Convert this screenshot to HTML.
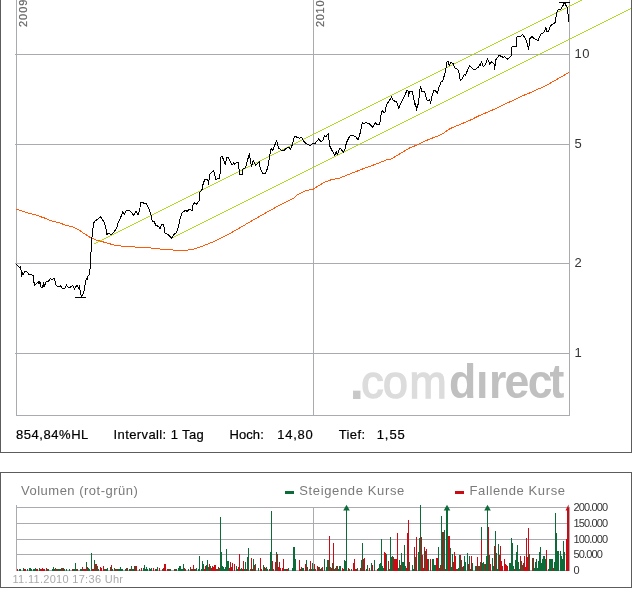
<!DOCTYPE html>
<html><head><meta charset="utf-8"><title>Chart</title>
<style>html,body{margin:0;padding:0;background:#fff}body{width:632px;height:590px;position:relative;overflow:hidden;font-family:"Liberation Sans",sans-serif}</style></head>
<body>
<svg width="632" height="590" viewBox="0 0 632 590" style="position:absolute;left:0;top:0;display:block">
<rect x="0" y="0" width="632" height="590" fill="#fff"/>
<g shape-rendering="crispEdges" fill="#5c5c5c">
<rect x="0" y="0" width="1" height="453"/><rect x="631" y="0" width="1" height="453"/><rect x="0" y="452" width="632" height="1"/>
<rect x="0" y="472" width="632" height="1"/><rect x="0" y="587" width="632" height="1"/><rect x="0" y="472" width="1" height="116"/><rect x="631" y="472" width="1" height="116"/>
</g>
<g shape-rendering="crispEdges" fill="#a9abb0">
<rect x="15" y="54" width="555" height="1"/>
<rect x="15" y="144" width="555" height="1"/>
<rect x="15" y="263" width="555" height="1"/>
<rect x="15" y="353" width="555" height="1"/>
<rect x="16" y="0" width="1" height="416"/><rect x="313" y="0" width="1" height="416"/><rect x="569" y="0" width="1" height="416"/>
<rect x="16" y="415" width="554" height="1"/>
</g>
<text transform="scale(0.95,1)" font-family="'Liberation Sans',sans-serif" font-size="47" fill="#dcdcdc" stroke="#dcdcdc" stroke-width="1.5"><tspan x="367.85" y="398.8" font-size="55" font-weight="bold" fill="#c8c8c8" stroke="none">.</tspan><tspan x="380.21 403.26 430.95" y="397.6">com</tspan></text>
<text transform="scale(0.93,1)" font-family="'Liberation Sans',sans-serif" font-size="48" font-weight="bold" fill="#c0c0c0" x="482.81 511.90 525.89 542.55 567.61 590.83" y="397.7">dırect</text>
<g stroke="#a6d60a" stroke-width="0.89" fill="none" shape-rendering="crispEdges">
<line x1="94" y1="244.2" x2="582.4" y2="0"/>
<line x1="171" y1="238.6" x2="631" y2="8.6"/>
</g>
<polyline points="16.5,209.3 27.0,212.7 35.4,214.9 43.9,217.8 52.4,221.2 60.8,223.2 66.0,225.6 71.9,226.3 78.7,229.7 84.6,233.9 91.4,238.1 96.5,240.2 105.0,242.4 113.5,244.9 122.0,246.1 133.8,246.9 150.7,248.0 166.0,249.7 185.0,250.5 193.0,249.3 200.0,247.0 207.5,244.2 217.6,239.9 227.8,234.8 238.0,228.9 248.1,223.0 260.0,216.2 270.0,210.5 280.0,205.0 289.7,200.0 294.0,198.3 297.4,194.9 305.8,190.7 313.5,189.0 322.8,183.1 329.6,180.2 339.7,178.0 348.2,174.6 355.0,172.0 365.0,168.0 375.0,164.5 386.4,160.0 390.7,159.2 400.8,153.2 409.3,148.1 417.8,144.7 426.3,140.5 434.7,137.1 441.5,134.6 450.0,128.6 460.0,124.5 471.3,119.7 478.9,115.8 489.1,111.5 495.8,108.5 504.3,104.4 512.8,100.5 521.3,96.3 529.7,92.9 536.5,89.8 545.0,86.1 555.9,80.0 568.8,72.5" fill="none" stroke="#ff5a0a" stroke-width="1" stroke-linejoin="round" shape-rendering="crispEdges"/>
<polyline points="16.5,264.4 19.6,267.5 20.6,266.2 21.6,276.1 22.6,272.5 23.2,275.1 24.7,271.5 26.7,271.3 28.7,274.1 31.3,274.6 33.3,275.6 34.3,285.3 38.4,281.7 38.9,283.7 39.9,281.7 41.0,287.3 42.5,287.3 43.5,282.2 44.0,287.3 46.0,281.7 48.6,281.2 50.6,278.5 52.1,279.9 53.2,278.7 54.7,278.7 55.7,284.8 57.7,286.8 59.3,286.8 60.3,285.3 62.3,288.3 64.9,288.3 66.4,284.8 68.4,287.8 71.0,286.8 72.5,285.3 74.5,289.3 76.0,286.3 77.0,285.6 78.7,288.1 79.2,285.6 81.3,296.6 83.8,292.4 86.3,278.0 87.7,279.7 88.0,276.3 89.7,274.6 90.1,267.8 91.1,250.8 92.3,232.2 94.0,222.0 94.8,222.9 95.0,221.0 100.7,216.9 104.1,222.0 105.8,227.1 106.7,234.7 108.4,233.1 110.9,234.7 112.6,233.9 116.8,228.0 117.7,223.7 120.2,218.6 122.8,211.9 124.5,214.4 126.2,210.2 129.6,210.2 133.8,215.3 136.3,211.0 138.0,215.3 139.7,210.2 140.6,202.5 143.1,202.5 144.0,204.2 146.0,203.0 149.1,209.3 151.6,217.0 152.4,222.0 154.1,221.2 155.8,225.4 158.4,226.3 160.1,228.5 161.7,224.7 163.7,224.7 165.1,233.1 168.5,234.8 171.5,238.2 174.4,234.0 176.1,233.1 178.6,226.4 180.3,217.9 182.0,212.8 185.4,210.3 187.1,211.4 188.8,209.4 192.2,210.3 193.1,204.3 194.7,202.6 196.4,204.3 199.5,200.1 199.8,192.5 202.4,189.1 203.2,183.1 204.9,179.7 207.1,178.9 208.3,181.4 208.3,184.8 210.0,173.8 213.4,170.8 214.6,173.8 215.9,179.7 219.3,178.1 220.2,173.0 221.0,156.9 222.4,156.9 225.3,164.5 226.9,157.7 228.6,157.7 232.0,165.3 233.7,162.8 234.6,164.5 237.1,161.9 238.3,162.8 239.7,174.7 242.2,174.7 243.1,168.7 245.6,167.9 249.3,153.5 251.5,167.0 253.2,160.3 255.8,165.3 256.7,164.4 259.2,161.9 260.1,167.8 262.6,173.7 265.2,173.7 267.7,167.8 269.4,157.6 271.1,148.3 272.8,150.8 274.5,145.8 276.7,140.7 278.7,148.3 281.3,150.0 283.8,150.8 286.4,148.3 288.9,147.5 290.6,149.2 292.6,144.1 294.5,136.4 297.4,137.3 299.4,138.1 301.6,137.3 303.3,140.7 305.8,143.2 310.1,145.8 312.6,143.2 315.2,143.2 318.6,139.0 321.1,141.5 322.8,140.7 324.5,135.6 326.2,136.4 328.4,133.1 329.6,145.8 332.1,150.8 334.7,155.1 336.4,151.7 337.2,155.1 339.7,148.3 341.4,149.2 343.1,152.5 344.8,150.0 346.5,142.4 349.1,137.3 350.8,135.3 353.4,135.4 355.9,137.1 358.1,139.7 359.8,134.6 361.9,124.4 362.7,122.7 364.4,123.6 366.1,122.4 370.3,124.4 372.5,127.5 375.1,122.7 377.1,124.4 379.7,124.1 381.4,112.5 382.2,110.8 383.9,112.5 385.3,111.7 386.4,104.9 389.8,99.8 391.5,96.9 393.2,100.7 396.6,101.5 398.8,108.3 400.8,103.2 404.2,96.4 406.8,90.8 408.0,90.5 408.5,96.4 409.7,91.4 412.4,91.4 414.1,100.7 415.3,106.6 415.8,103.2 416.4,110.5 418.6,102.4 420.3,86.3 422.0,91.4 424.6,91.4 427.1,100.7 429.7,99.8 430.5,103.2 432.2,94.7 433.9,90.5 435.6,90.8 437.3,93.6 439.0,87.1 441.5,81.2 442.4,82.0 444.1,76.1 445.8,70.2 446.6,62.5 448.0,60.7 449.2,65.8 450.9,62.4 453.1,63.7 455.2,68.3 457.7,69.2 459.4,74.2 460.3,81.0 462.8,77.6 464.5,74.2 465.7,75.1 467.9,69.2 469.6,65.8 473.0,69.2 475.5,69.2 478.9,66.6 479.7,64.1 480.6,65.8 481.4,61.0 483.1,66.6 485.7,64.1 487.4,58.6 489.9,64.4 491.6,61.5 494.2,64.1 494.5,69.5 495.8,59.8 499.2,55.3 503.5,57.6 504.3,56.4 507.7,59.3 511.1,55.9 511.9,47.1 516.2,46.3 517.0,36.9 519.6,36.1 520.4,36.9 522.6,34.4 525.5,38.9 527.4,43.6 528.5,49.6 530.0,38.5 532.2,36.3 533.6,38.6 535.6,39.4 538.3,40.4 540.4,34.5 542.4,33.3 544.4,31.9 545.8,27.8 547.1,31.9 548.5,31.9 550.5,25.8 552.5,24.4 555.5,22.4 556.3,13.6 558.0,9.8 560.7,9.2 562.7,6.1 564.5,2.7 566.8,6.8 567.7,8.1 568.1,16.3 568.8,22.4" fill="none" stroke="#000" stroke-width="1" stroke-linejoin="round" shape-rendering="crispEdges"/>
<g shape-rendering="crispEdges" fill="#000"><rect x="559" y="2" width="11" height="1"/><rect x="75" y="297" width="11" height="1"/></g>
<text transform="translate(27.2,27) rotate(-90)" font-family="'Liberation Sans',sans-serif" font-size="11" fill="#666" stroke="#666" stroke-width="0.2" letter-spacing="1">2009</text>
<text transform="translate(324.2,27) rotate(-90)" font-family="'Liberation Sans',sans-serif" font-size="11" fill="#666" stroke="#666" stroke-width="0.2" letter-spacing="0.68">2010</text>
<text x="574.5" y="58" font-family="'Liberation Sans',sans-serif" font-size="13" fill="#333" letter-spacing="0.4">10</text>
<text x="574.5" y="148" font-family="'Liberation Sans',sans-serif" font-size="13" fill="#333" letter-spacing="0.4">5</text>
<text x="574.5" y="267" font-family="'Liberation Sans',sans-serif" font-size="13" fill="#333" letter-spacing="0.4">2</text>
<text x="574.5" y="357" font-family="'Liberation Sans',sans-serif" font-size="13" fill="#333" letter-spacing="0.4">1</text>
<text x="16" y="439" font-family="'Liberation Sans',sans-serif" font-size="13" fill="#000" stroke="#000" stroke-width="0.2" letter-spacing="0.55" xml:space="preserve">854,84%HL</text>
<text x="113.5" y="439" font-family="'Liberation Sans',sans-serif" font-size="13" fill="#000" stroke="#000" stroke-width="0.2" letter-spacing="0.4" xml:space="preserve">Intervall: 1 Tag</text>
<text x="229.6" y="439" font-family="'Liberation Sans',sans-serif" font-size="13" fill="#000" stroke="#000" stroke-width="0.2" letter-spacing="0.05" xml:space="preserve">Hoch:</text>
<text x="277.2" y="439" font-family="'Liberation Sans',sans-serif" font-size="13" fill="#000" stroke="#000" stroke-width="0.2" letter-spacing="0.75" xml:space="preserve">14,80</text>
<text x="338.7" y="439" font-family="'Liberation Sans',sans-serif" font-size="13" fill="#000" stroke="#000" stroke-width="0.2" letter-spacing="0.4" xml:space="preserve">Tief:</text>
<text x="376.7" y="439" font-family="'Liberation Sans',sans-serif" font-size="13" fill="#000" stroke="#000" stroke-width="0.2" letter-spacing="0.95" xml:space="preserve">1,55</text>
<g shape-rendering="crispEdges" fill="#a9abb0">
<rect x="16" y="507" width="554" height="1"/>
<rect x="16" y="523" width="554" height="1"/>
<rect x="16" y="539" width="554" height="1"/>
<rect x="16" y="554" width="554" height="1"/>
<rect x="16" y="570" width="554" height="1"/>
<rect x="16" y="505" width="1" height="66"/><rect x="313" y="507" width="1" height="64"/><rect x="569" y="507" width="1" height="64"/>
</g>
<text x="21" y="495" font-family="'Liberation Sans',sans-serif" font-size="13" fill="#7a7a7a" letter-spacing="0.5">Volumen (rot-grün)</text>
<text x="299.3" y="495" font-family="'Liberation Sans',sans-serif" font-size="13" fill="#7a7a7a" letter-spacing="0.63">Steigende Kurse</text>
<text x="469.5" y="495" font-family="'Liberation Sans',sans-serif" font-size="13" fill="#7a7a7a" letter-spacing="0.62">Fallende Kurse</text>
<rect x="285" y="491" width="9" height="3" fill="#0c6b37" shape-rendering="crispEdges"/>
<rect x="455" y="491" width="9" height="3" fill="#cc0a14" shape-rendering="crispEdges"/>
<text x="573.5" y="511" font-family="'Liberation Sans',sans-serif" font-size="11" fill="#333" letter-spacing="-0.85">200.000</text>
<text x="573.5" y="526.5" font-family="'Liberation Sans',sans-serif" font-size="11" fill="#333" letter-spacing="-0.85">150.000</text>
<text x="573.5" y="542.5" font-family="'Liberation Sans',sans-serif" font-size="11" fill="#333" letter-spacing="-0.85">100.000</text>
<text x="573.5" y="557.5" font-family="'Liberation Sans',sans-serif" font-size="11" fill="#333" letter-spacing="-0.85">50.000</text>
<text x="573.5" y="573.5" font-family="'Liberation Sans',sans-serif" font-size="11" fill="#333" letter-spacing="-0.85">0</text>
<text x="12.5" y="582.5" font-family="'Liberation Sans',sans-serif" font-size="11" fill="#aaa" letter-spacing="0.3">11.11.2010 17:36 Uhr</text>
<g shape-rendering="crispEdges">
<rect x="17" y="569" width="1" height="2" fill="#cc0a14"/>
<rect x="19" y="569" width="1" height="2" fill="#0c6b37"/>
<rect x="20" y="569" width="1" height="2" fill="#0c6b37"/>
<rect x="23" y="568" width="1" height="3" fill="#0c6b37"/>
<rect x="24" y="569" width="1" height="2" fill="#cc0a14"/>
<rect x="25" y="569" width="1" height="2" fill="#cc0a14"/>
<rect x="27" y="569" width="1" height="2" fill="#0c6b37"/>
<rect x="29" y="568" width="1" height="3" fill="#0c6b37"/>
<rect x="30" y="568" width="1" height="3" fill="#0c6b37"/>
<rect x="31" y="569" width="1" height="2" fill="#0c6b37"/>
<rect x="33" y="569" width="1" height="2" fill="#0c6b37"/>
<rect x="34" y="569" width="1" height="2" fill="#0c6b37"/>
<rect x="35" y="568" width="1" height="3" fill="#0c6b37"/>
<rect x="36" y="569" width="1" height="2" fill="#cc0a14"/>
<rect x="37" y="569" width="1" height="2" fill="#cc0a14"/>
<rect x="39" y="568" width="1" height="3" fill="#0c6b37"/>
<rect x="40" y="569" width="1" height="2" fill="#cc0a14"/>
<rect x="41" y="569" width="1" height="2" fill="#cc0a14"/>
<rect x="42" y="568" width="1" height="3" fill="#cc0a14"/>
<rect x="43" y="569" width="1" height="2" fill="#cc0a14"/>
<rect x="44" y="569" width="1" height="2" fill="#cc0a14"/>
<rect x="46" y="568" width="1" height="3" fill="#cc0a14"/>
<rect x="47" y="569" width="1" height="2" fill="#0c6b37"/>
<rect x="48" y="569" width="1" height="2" fill="#0c6b37"/>
<rect x="52" y="569" width="1" height="2" fill="#0c6b37"/>
<rect x="53" y="567" width="1" height="4" fill="#0c6b37"/>
<rect x="54" y="569" width="1" height="2" fill="#cc0a14"/>
<rect x="55" y="568" width="1" height="3" fill="#0c6b37"/>
<rect x="56" y="569" width="1" height="2" fill="#cc0a14"/>
<rect x="57" y="569" width="1" height="2" fill="#0c6b37"/>
<rect x="58" y="569" width="1" height="2" fill="#0c6b37"/>
<rect x="59" y="569" width="1" height="2" fill="#0c6b37"/>
<rect x="60" y="569" width="1" height="2" fill="#cc0a14"/>
<rect x="61" y="568" width="1" height="3" fill="#0c6b37"/>
<rect x="62" y="568" width="1" height="3" fill="#0c6b37"/>
<rect x="63" y="568" width="1" height="3" fill="#cc0a14"/>
<rect x="64" y="569" width="1" height="2" fill="#0c6b37"/>
<rect x="66" y="569" width="1" height="2" fill="#0c6b37"/>
<rect x="69" y="569" width="1" height="2" fill="#0c6b37"/>
<rect x="72" y="569" width="1" height="2" fill="#cc0a14"/>
<rect x="73" y="569" width="1" height="2" fill="#0c6b37"/>
<rect x="74" y="569" width="1" height="2" fill="#0c6b37"/>
<rect x="75" y="563" width="1" height="8" fill="#0c6b37"/>
<rect x="76" y="569" width="1" height="2" fill="#0c6b37"/>
<rect x="77" y="569" width="1" height="2" fill="#cc0a14"/>
<rect x="80" y="569" width="1" height="2" fill="#0c6b37"/>
<rect x="81" y="569" width="1" height="2" fill="#0c6b37"/>
<rect x="82" y="567" width="1" height="4" fill="#cc0a14"/>
<rect x="83" y="569" width="1" height="2" fill="#0c6b37"/>
<rect x="84" y="569" width="1" height="2" fill="#cc0a14"/>
<rect x="85" y="569" width="1" height="2" fill="#cc0a14"/>
<rect x="87" y="567" width="1" height="4" fill="#cc0a14"/>
<rect x="88" y="568" width="1" height="3" fill="#0c6b37"/>
<rect x="89" y="569" width="1" height="2" fill="#0c6b37"/>
<rect x="92" y="569" width="1" height="2" fill="#cc0a14"/>
<rect x="93" y="569" width="1" height="2" fill="#cc0a14"/>
<rect x="97" y="566" width="1" height="5" fill="#0c6b37"/>
<rect x="98" y="569" width="1" height="2" fill="#0c6b37"/>
<rect x="100" y="567" width="1" height="4" fill="#cc0a14"/>
<rect x="101" y="568" width="1" height="3" fill="#cc0a14"/>
<rect x="103" y="566" width="1" height="5" fill="#cc0a14"/>
<rect x="104" y="569" width="1" height="2" fill="#0c6b37"/>
<rect x="105" y="569" width="1" height="2" fill="#cc0a14"/>
<rect x="106" y="569" width="1" height="2" fill="#0c6b37"/>
<rect x="107" y="568" width="1" height="3" fill="#0c6b37"/>
<rect x="110" y="567" width="1" height="4" fill="#0c6b37"/>
<rect x="111" y="565" width="1" height="6" fill="#cc0a14"/>
<rect x="112" y="569" width="1" height="2" fill="#0c6b37"/>
<rect x="114" y="568" width="1" height="3" fill="#0c6b37"/>
<rect x="115" y="569" width="1" height="2" fill="#cc0a14"/>
<rect x="116" y="569" width="1" height="2" fill="#0c6b37"/>
<rect x="117" y="569" width="1" height="2" fill="#cc0a14"/>
<rect x="118" y="569" width="1" height="2" fill="#0c6b37"/>
<rect x="119" y="569" width="1" height="2" fill="#0c6b37"/>
<rect x="120" y="567" width="1" height="4" fill="#0c6b37"/>
<rect x="121" y="569" width="1" height="2" fill="#0c6b37"/>
<rect x="122" y="569" width="1" height="2" fill="#0c6b37"/>
<rect x="125" y="569" width="1" height="2" fill="#0c6b37"/>
<rect x="126" y="568" width="1" height="3" fill="#0c6b37"/>
<rect x="127" y="568" width="1" height="3" fill="#cc0a14"/>
<rect x="129" y="569" width="1" height="2" fill="#0c6b37"/>
<rect x="130" y="569" width="1" height="2" fill="#cc0a14"/>
<rect x="131" y="566" width="1" height="5" fill="#0c6b37"/>
<rect x="132" y="569" width="1" height="2" fill="#0c6b37"/>
<rect x="133" y="569" width="1" height="2" fill="#0c6b37"/>
<rect x="134" y="566" width="1" height="5" fill="#cc0a14"/>
<rect x="135" y="566" width="1" height="5" fill="#0c6b37"/>
<rect x="136" y="566" width="1" height="5" fill="#cc0a14"/>
<rect x="139" y="569" width="1" height="2" fill="#0c6b37"/>
<rect x="141" y="568" width="1" height="3" fill="#cc0a14"/>
<rect x="143" y="568" width="1" height="3" fill="#0c6b37"/>
<rect x="144" y="565" width="1" height="6" fill="#0c6b37"/>
<rect x="145" y="569" width="1" height="2" fill="#0c6b37"/>
<rect x="146" y="567" width="1" height="4" fill="#0c6b37"/>
<rect x="147" y="569" width="1" height="2" fill="#0c6b37"/>
<rect x="149" y="568" width="1" height="3" fill="#0c6b37"/>
<rect x="150" y="569" width="1" height="2" fill="#0c6b37"/>
<rect x="151" y="568" width="1" height="3" fill="#0c6b37"/>
<rect x="153" y="568" width="1" height="3" fill="#cc0a14"/>
<rect x="155" y="569" width="1" height="2" fill="#cc0a14"/>
<rect x="156" y="569" width="1" height="2" fill="#0c6b37"/>
<rect x="157" y="567" width="1" height="4" fill="#0c6b37"/>
<rect x="159" y="568" width="1" height="3" fill="#cc0a14"/>
<rect x="162" y="569" width="1" height="2" fill="#0c6b37"/>
<rect x="163" y="568" width="1" height="3" fill="#cc0a14"/>
<rect x="167" y="569" width="1" height="2" fill="#cc0a14"/>
<rect x="168" y="569" width="1" height="2" fill="#cc0a14"/>
<rect x="169" y="569" width="1" height="2" fill="#0c6b37"/>
<rect x="170" y="569" width="1" height="2" fill="#0c6b37"/>
<rect x="174" y="569" width="1" height="2" fill="#cc0a14"/>
<rect x="175" y="569" width="1" height="2" fill="#0c6b37"/>
<rect x="176" y="569" width="1" height="2" fill="#0c6b37"/>
<rect x="178" y="568" width="1" height="3" fill="#0c6b37"/>
<rect x="179" y="566" width="1" height="5" fill="#0c6b37"/>
<rect x="181" y="569" width="1" height="2" fill="#0c6b37"/>
<rect x="182" y="569" width="1" height="2" fill="#0c6b37"/>
<rect x="183" y="564" width="1" height="7" fill="#0c6b37"/>
<rect x="184" y="568" width="1" height="3" fill="#cc0a14"/>
<rect x="185" y="569" width="1" height="2" fill="#0c6b37"/>
<rect x="188" y="569" width="1" height="2" fill="#0c6b37"/>
<rect x="190" y="567" width="1" height="4" fill="#cc0a14"/>
<rect x="191" y="569" width="1" height="2" fill="#0c6b37"/>
<rect x="192" y="569" width="1" height="2" fill="#0c6b37"/>
<rect x="193" y="565" width="1" height="6" fill="#cc0a14"/>
<rect x="194" y="569" width="1" height="2" fill="#cc0a14"/>
<rect x="195" y="569" width="1" height="2" fill="#0c6b37"/>
<rect x="196" y="568" width="1" height="3" fill="#0c6b37"/>
<rect x="198" y="569" width="1" height="2" fill="#0c6b37"/>
<rect x="201" y="569" width="1" height="2" fill="#0c6b37"/>
<rect x="204" y="569" width="1" height="2" fill="#cc0a14"/>
<rect x="205" y="566" width="1" height="5" fill="#cc0a14"/>
<rect x="206" y="565" width="1" height="6" fill="#0c6b37"/>
<rect x="207" y="560" width="1" height="11" fill="#0c6b37"/>
<rect x="208" y="567" width="1" height="4" fill="#0c6b37"/>
<rect x="209" y="564" width="1" height="7" fill="#cc0a14"/>
<rect x="210" y="566" width="1" height="5" fill="#0c6b37"/>
<rect x="211" y="568" width="1" height="3" fill="#cc0a14"/>
<rect x="212" y="566" width="1" height="5" fill="#cc0a14"/>
<rect x="213" y="567" width="1" height="4" fill="#cc0a14"/>
<rect x="216" y="569" width="1" height="2" fill="#0c6b37"/>
<rect x="217" y="569" width="1" height="2" fill="#cc0a14"/>
<rect x="218" y="567" width="1" height="4" fill="#cc0a14"/>
<rect x="219" y="568" width="1" height="3" fill="#0c6b37"/>
<rect x="222" y="566" width="1" height="5" fill="#0c6b37"/>
<rect x="223" y="567" width="1" height="4" fill="#0c6b37"/>
<rect x="224" y="569" width="1" height="2" fill="#0c6b37"/>
<rect x="225" y="567" width="1" height="4" fill="#0c6b37"/>
<rect x="228" y="561" width="1" height="10" fill="#0c6b37"/>
<rect x="229" y="568" width="1" height="3" fill="#cc0a14"/>
<rect x="231" y="567" width="1" height="4" fill="#cc0a14"/>
<rect x="236" y="566" width="1" height="5" fill="#0c6b37"/>
<rect x="237" y="569" width="1" height="2" fill="#0c6b37"/>
<rect x="238" y="567" width="1" height="4" fill="#cc0a14"/>
<rect x="240" y="569" width="1" height="2" fill="#0c6b37"/>
<rect x="241" y="568" width="1" height="3" fill="#0c6b37"/>
<rect x="242" y="569" width="1" height="2" fill="#cc0a14"/>
<rect x="244" y="569" width="1" height="2" fill="#0c6b37"/>
<rect x="245" y="562" width="1" height="9" fill="#0c6b37"/>
<rect x="246" y="569" width="1" height="2" fill="#cc0a14"/>
<rect x="250" y="569" width="1" height="2" fill="#0c6b37"/>
<rect x="252" y="569" width="1" height="2" fill="#cc0a14"/>
<rect x="254" y="565" width="1" height="6" fill="#cc0a14"/>
<rect x="255" y="564" width="1" height="7" fill="#0c6b37"/>
<rect x="258" y="568" width="1" height="3" fill="#0c6b37"/>
<rect x="261" y="569" width="1" height="2" fill="#cc0a14"/>
<rect x="263" y="565" width="1" height="6" fill="#0c6b37"/>
<rect x="264" y="567" width="1" height="4" fill="#cc0a14"/>
<rect x="265" y="568" width="1" height="3" fill="#0c6b37"/>
<rect x="266" y="567" width="1" height="4" fill="#0c6b37"/>
<rect x="267" y="569" width="1" height="2" fill="#0c6b37"/>
<rect x="269" y="569" width="1" height="2" fill="#cc0a14"/>
<rect x="273" y="569" width="1" height="2" fill="#0c6b37"/>
<rect x="275" y="562" width="1" height="9" fill="#cc0a14"/>
<rect x="278" y="567" width="1" height="4" fill="#cc0a14"/>
<rect x="280" y="568" width="1" height="3" fill="#cc0a14"/>
<rect x="282" y="568" width="1" height="3" fill="#cc0a14"/>
<rect x="284" y="569" width="1" height="2" fill="#0c6b37"/>
<rect x="285" y="569" width="1" height="2" fill="#0c6b37"/>
<rect x="286" y="569" width="1" height="2" fill="#cc0a14"/>
<rect x="287" y="569" width="1" height="2" fill="#cc0a14"/>
<rect x="288" y="568" width="1" height="3" fill="#0c6b37"/>
<rect x="292" y="568" width="1" height="3" fill="#0c6b37"/>
<rect x="295" y="559" width="1" height="12" fill="#0c6b37"/>
<rect x="300" y="569" width="1" height="2" fill="#0c6b37"/>
<rect x="301" y="567" width="1" height="4" fill="#cc0a14"/>
<rect x="302" y="568" width="1" height="3" fill="#0c6b37"/>
<rect x="303" y="568" width="1" height="3" fill="#0c6b37"/>
<rect x="306" y="560" width="1" height="11" fill="#0c6b37"/>
<rect x="307" y="567" width="1" height="4" fill="#cc0a14"/>
<rect x="309" y="569" width="1" height="2" fill="#0c6b37"/>
<rect x="310" y="561" width="1" height="10" fill="#cc0a14"/>
<rect x="311" y="569" width="1" height="2" fill="#0c6b37"/>
<rect x="312" y="563" width="1" height="8" fill="#0c6b37"/>
<rect x="313" y="569" width="1" height="2" fill="#0c6b37"/>
<rect x="314" y="564" width="1" height="7" fill="#cc0a14"/>
<rect x="315" y="569" width="1" height="2" fill="#0c6b37"/>
<rect x="317" y="566" width="1" height="5" fill="#cc0a14"/>
<rect x="318" y="567" width="1" height="4" fill="#cc0a14"/>
<rect x="319" y="567" width="1" height="4" fill="#0c6b37"/>
<rect x="320" y="569" width="1" height="2" fill="#cc0a14"/>
<rect x="321" y="568" width="1" height="3" fill="#0c6b37"/>
<rect x="322" y="567" width="1" height="4" fill="#cc0a14"/>
<rect x="326" y="567" width="1" height="4" fill="#0c6b37"/>
<rect x="330" y="567" width="1" height="4" fill="#0c6b37"/>
<rect x="331" y="568" width="1" height="3" fill="#cc0a14"/>
<rect x="332" y="563" width="1" height="8" fill="#0c6b37"/>
<rect x="334" y="569" width="1" height="2" fill="#cc0a14"/>
<rect x="335" y="568" width="1" height="3" fill="#0c6b37"/>
<rect x="336" y="566" width="1" height="5" fill="#0c6b37"/>
<rect x="337" y="566" width="1" height="5" fill="#cc0a14"/>
<rect x="338" y="569" width="1" height="2" fill="#0c6b37"/>
<rect x="339" y="566" width="1" height="5" fill="#0c6b37"/>
<rect x="340" y="566" width="1" height="5" fill="#0c6b37"/>
<rect x="342" y="568" width="1" height="3" fill="#cc0a14"/>
<rect x="343" y="569" width="1" height="2" fill="#cc0a14"/>
<rect x="345" y="561" width="1" height="10" fill="#0c6b37"/>
<rect x="348" y="568" width="1" height="3" fill="#cc0a14"/>
<rect x="349" y="569" width="1" height="2" fill="#0c6b37"/>
<rect x="351" y="569" width="1" height="2" fill="#0c6b37"/>
<rect x="353" y="563" width="1" height="8" fill="#cc0a14"/>
<rect x="354" y="559" width="1" height="12" fill="#cc0a14"/>
<rect x="355" y="569" width="1" height="2" fill="#cc0a14"/>
<rect x="356" y="569" width="1" height="2" fill="#cc0a14"/>
<rect x="357" y="568" width="1" height="3" fill="#0c6b37"/>
<rect x="360" y="568" width="1" height="3" fill="#cc0a14"/>
<rect x="366" y="569" width="1" height="2" fill="#0c6b37"/>
<rect x="367" y="565" width="1" height="6" fill="#0c6b37"/>
<rect x="369" y="568" width="1" height="3" fill="#cc0a14"/>
<rect x="371" y="563" width="1" height="8" fill="#0c6b37"/>
<rect x="372" y="565" width="1" height="6" fill="#cc0a14"/>
<rect x="377" y="569" width="1" height="2" fill="#cc0a14"/>
<rect x="378" y="568" width="1" height="3" fill="#0c6b37"/>
<rect x="382" y="566" width="1" height="5" fill="#0c6b37"/>
<rect x="383" y="568" width="1" height="3" fill="#0c6b37"/>
<rect x="388" y="561" width="1" height="10" fill="#cc0a14"/>
<rect x="389" y="569" width="1" height="2" fill="#0c6b37"/>
<rect x="394" y="559" width="1" height="12" fill="#cc0a14"/>
<rect x="398" y="568" width="1" height="3" fill="#0c6b37"/>
<rect x="399" y="560" width="1" height="11" fill="#0c6b37"/>
<rect x="400" y="565" width="1" height="6" fill="#cc0a14"/>
<rect x="405" y="566" width="1" height="5" fill="#0c6b37"/>
<rect x="406" y="568" width="1" height="3" fill="#cc0a14"/>
<rect x="413" y="569" width="1" height="2" fill="#0c6b37"/>
<rect x="423" y="568" width="1" height="3" fill="#cc0a14"/>
<rect x="428" y="559" width="1" height="12" fill="#0c6b37"/>
<rect x="434" y="565" width="1" height="6" fill="#0c6b37"/>
<rect x="439" y="568" width="1" height="3" fill="#cc0a14"/>
<rect x="440" y="565" width="1" height="6" fill="#cc0a14"/>
<rect x="445" y="569" width="1" height="2" fill="#cc0a14"/>
<rect x="451" y="567" width="1" height="4" fill="#0c6b37"/>
<rect x="456" y="569" width="1" height="2" fill="#0c6b37"/>
<rect x="457" y="569" width="1" height="2" fill="#cc0a14"/>
<rect x="458" y="568" width="1" height="3" fill="#0c6b37"/>
<rect x="462" y="567" width="1" height="4" fill="#0c6b37"/>
<rect x="463" y="566" width="1" height="5" fill="#cc0a14"/>
<rect x="468" y="564" width="1" height="7" fill="#cc0a14"/>
<rect x="470" y="569" width="1" height="2" fill="#0c6b37"/>
<rect x="479" y="566" width="1" height="5" fill="#cc0a14"/>
<rect x="480" y="562" width="1" height="9" fill="#0c6b37"/>
<rect x="485" y="564" width="1" height="7" fill="#cc0a14"/>
<rect x="493" y="566" width="1" height="5" fill="#0c6b37"/>
<rect x="497" y="569" width="1" height="2" fill="#0c6b37"/>
<rect x="502" y="566" width="1" height="5" fill="#cc0a14"/>
<rect x="513" y="566" width="1" height="5" fill="#0c6b37"/>
<rect x="514" y="569" width="1" height="2" fill="#cc0a14"/>
<rect x="519" y="569" width="1" height="2" fill="#0c6b37"/>
<rect x="525" y="567" width="1" height="4" fill="#cc0a14"/>
<rect x="534" y="568" width="1" height="3" fill="#0c6b37"/>
<rect x="536" y="559" width="1" height="12" fill="#0c6b37"/>
<rect x="537" y="568" width="1" height="3" fill="#0c6b37"/>
<rect x="542" y="559" width="1" height="12" fill="#0c6b37"/>
<rect x="548" y="569" width="1" height="2" fill="#0c6b37"/>
<rect x="553" y="568" width="1" height="3" fill="#cc0a14"/>
<rect x="554" y="562" width="1" height="9" fill="#0c6b37"/>
<rect x="91" y="553" width="1" height="18" fill="#0c6b37"/>
<rect x="94" y="560" width="1" height="11" fill="#0c6b37"/>
<rect x="86" y="562" width="1" height="9" fill="#0c6b37"/>
<rect x="95" y="564" width="2" height="7" fill="#cc0a14"/>
<rect x="220" y="517" width="1" height="54" fill="#0c6b37"/>
<rect x="221" y="552" width="1" height="19" fill="#0c6b37"/>
<rect x="226" y="549" width="1" height="22" fill="#0c6b37"/>
<rect x="227" y="561" width="1" height="10" fill="#0c6b37"/>
<rect x="199" y="556" width="1" height="15" fill="#0c6b37"/>
<rect x="202" y="561" width="1" height="10" fill="#0c6b37"/>
<rect x="203" y="564" width="1" height="7" fill="#0c6b37"/>
<rect x="239" y="554" width="1" height="17" fill="#cc0a14"/>
<rect x="243" y="561" width="1" height="10" fill="#cc0a14"/>
<rect x="247" y="557" width="1" height="14" fill="#0c6b37"/>
<rect x="248" y="548" width="1" height="23" fill="#0c6b37"/>
<rect x="251" y="558" width="1" height="13" fill="#cc0a14"/>
<rect x="253" y="559" width="1" height="12" fill="#0c6b37"/>
<rect x="260" y="558" width="1" height="13" fill="#cc0a14"/>
<rect x="271" y="511" width="1" height="60" fill="#0c6b37"/>
<rect x="270" y="552" width="1" height="19" fill="#0c6b37"/>
<rect x="272" y="561" width="1" height="10" fill="#cc0a14"/>
<rect x="276" y="552" width="1" height="19" fill="#0c6b37"/>
<rect x="277" y="554" width="1" height="17" fill="#cc0a14"/>
<rect x="279" y="562" width="1" height="9" fill="#cc0a14"/>
<rect x="283" y="559" width="1" height="12" fill="#cc0a14"/>
<rect x="164" y="564" width="2" height="7" fill="#cc0a14"/>
<rect x="180" y="566" width="1" height="5" fill="#0c6b37"/>
<rect x="230" y="562" width="1" height="9" fill="#cc0a14"/>
<rect x="232" y="563" width="1" height="8" fill="#cc0a14"/>
<rect x="234" y="564" width="1" height="7" fill="#cc0a14"/>
<rect x="214" y="565" width="2" height="6" fill="#cc0a14"/>
<rect x="293" y="547" width="2" height="24" fill="#0c6b37"/>
<rect x="299" y="560" width="1" height="11" fill="#cc0a14"/>
<rect x="305" y="564" width="1" height="7" fill="#cc0a14"/>
<rect x="329" y="536" width="1" height="35" fill="#cc0a14"/>
<rect x="333" y="543" width="1" height="28" fill="#cc0a14"/>
<rect x="324" y="559" width="1" height="12" fill="#0c6b37"/>
<rect x="327" y="560" width="2" height="11" fill="#0c6b37"/>
<rect x="346" y="508" width="1" height="63" fill="#0c6b37"/>
<rect x="344" y="560" width="1" height="11" fill="#0c6b37"/>
<rect x="362" y="543" width="1" height="28" fill="#0c6b37"/>
<rect x="361" y="560" width="1" height="11" fill="#0c6b37"/>
<rect x="363" y="559" width="1" height="12" fill="#cc0a14"/>
<rect x="364" y="558" width="1" height="13" fill="#cc0a14"/>
<rect x="374" y="560" width="1" height="11" fill="#0c6b37"/>
<rect x="381" y="539" width="1" height="32" fill="#0c6b37"/>
<rect x="379" y="564" width="1" height="7" fill="#0c6b37"/>
<rect x="380" y="563" width="1" height="8" fill="#0c6b37"/>
<rect x="384" y="552" width="1" height="19" fill="#cc0a14"/>
<rect x="385" y="553" width="1" height="18" fill="#cc0a14"/>
<rect x="386" y="554" width="1" height="17" fill="#0c6b37"/>
<rect x="390" y="537" width="1" height="34" fill="#0c6b37"/>
<rect x="391" y="557" width="1" height="14" fill="#0c6b37"/>
<rect x="392" y="556" width="1" height="15" fill="#0c6b37"/>
<rect x="393" y="557" width="1" height="14" fill="#cc0a14"/>
<rect x="397" y="533" width="1" height="38" fill="#cc0a14"/>
<rect x="395" y="559" width="1" height="12" fill="#cc0a14"/>
<rect x="396" y="559" width="1" height="12" fill="#cc0a14"/>
<rect x="401" y="553" width="1" height="18" fill="#0c6b37"/>
<rect x="402" y="562" width="1" height="9" fill="#0c6b37"/>
<rect x="403" y="562" width="1" height="9" fill="#0c6b37"/>
<rect x="404" y="545" width="1" height="26" fill="#0c6b37"/>
<rect x="407" y="533" width="1" height="38" fill="#cc0a14"/>
<rect x="408" y="520" width="1" height="51" fill="#cc0a14"/>
<rect x="409" y="562" width="1" height="9" fill="#0c6b37"/>
<rect x="412" y="565" width="1" height="6" fill="#0c6b37"/>
<rect x="414" y="547" width="1" height="24" fill="#cc0a14"/>
<rect x="415" y="557" width="1" height="14" fill="#0c6b37"/>
<rect x="416" y="537" width="1" height="34" fill="#cc0a14"/>
<rect x="418" y="552" width="1" height="19" fill="#0c6b37"/>
<rect x="419" y="538" width="1" height="33" fill="#0c6b37"/>
<rect x="420" y="505" width="1" height="66" fill="#0c6b37"/>
<rect x="421" y="537" width="1" height="34" fill="#cc0a14"/>
<rect x="422" y="555" width="1" height="16" fill="#cc0a14"/>
<rect x="424" y="547" width="1" height="24" fill="#cc0a14"/>
<rect x="425" y="551" width="1" height="20" fill="#0c6b37"/>
<rect x="426" y="549" width="1" height="22" fill="#cc0a14"/>
<rect x="427" y="559" width="1" height="12" fill="#cc0a14"/>
<rect x="430" y="559" width="1" height="12" fill="#cc0a14"/>
<rect x="432" y="559" width="1" height="12" fill="#0c6b37"/>
<rect x="433" y="559" width="1" height="12" fill="#0c6b37"/>
<rect x="435" y="565" width="1" height="6" fill="#0c6b37"/>
<rect x="436" y="558" width="1" height="13" fill="#cc0a14"/>
<rect x="437" y="558" width="1" height="13" fill="#cc0a14"/>
<rect x="438" y="547" width="1" height="24" fill="#0c6b37"/>
<rect x="441" y="516" width="1" height="55" fill="#0c6b37"/>
<rect x="442" y="532" width="1" height="39" fill="#cc0a14"/>
<rect x="443" y="532" width="1" height="39" fill="#0c6b37"/>
<rect x="444" y="530" width="1" height="41" fill="#0c6b37"/>
<rect x="446" y="508" width="2" height="63" fill="#0c6b37"/>
<rect x="448" y="536" width="2" height="35" fill="#cc0a14"/>
<rect x="450" y="548" width="1" height="23" fill="#0c6b37"/>
<rect x="452" y="554" width="1" height="17" fill="#0c6b37"/>
<rect x="453" y="562" width="1" height="9" fill="#cc0a14"/>
<rect x="454" y="552" width="1" height="19" fill="#cc0a14"/>
<rect x="455" y="556" width="1" height="15" fill="#cc0a14"/>
<rect x="459" y="555" width="1" height="16" fill="#0c6b37"/>
<rect x="460" y="555" width="1" height="16" fill="#cc0a14"/>
<rect x="461" y="560" width="1" height="11" fill="#0c6b37"/>
<rect x="464" y="556" width="1" height="15" fill="#0c6b37"/>
<rect x="465" y="562" width="1" height="9" fill="#0c6b37"/>
<rect x="467" y="553" width="1" height="18" fill="#0c6b37"/>
<rect x="469" y="556" width="1" height="15" fill="#0c6b37"/>
<rect x="471" y="556" width="1" height="15" fill="#cc0a14"/>
<rect x="472" y="563" width="1" height="8" fill="#0c6b37"/>
<rect x="475" y="566" width="4" height="5" fill="#0c6b37"/>
<rect x="477" y="557" width="1" height="14" fill="#cc0a14"/>
<rect x="481" y="527" width="1" height="44" fill="#0c6b37"/>
<rect x="481" y="540" width="1" height="31" fill="#cc0a14"/>
<rect x="482" y="563" width="1" height="8" fill="#0c6b37"/>
<rect x="483" y="562" width="1" height="9" fill="#0c6b37"/>
<rect x="484" y="564" width="1" height="7" fill="#0c6b37"/>
<rect x="486" y="556" width="1" height="15" fill="#0c6b37"/>
<rect x="487" y="508" width="1" height="63" fill="#0c6b37"/>
<rect x="488" y="527" width="1" height="44" fill="#cc0a14"/>
<rect x="489" y="555" width="1" height="16" fill="#0c6b37"/>
<rect x="490" y="564" width="1" height="7" fill="#cc0a14"/>
<rect x="492" y="558" width="1" height="13" fill="#0c6b37"/>
<rect x="494" y="546" width="1" height="25" fill="#cc0a14"/>
<rect x="495" y="531" width="1" height="40" fill="#0c6b37"/>
<rect x="496" y="553" width="1" height="18" fill="#0c6b37"/>
<rect x="498" y="544" width="1" height="27" fill="#0c6b37"/>
<rect x="499" y="555" width="1" height="16" fill="#cc0a14"/>
<rect x="500" y="546" width="1" height="25" fill="#cc0a14"/>
<rect x="501" y="561" width="1" height="10" fill="#cc0a14"/>
<rect x="504" y="559" width="1" height="12" fill="#cc0a14"/>
<rect x="505" y="564" width="1" height="7" fill="#cc0a14"/>
<rect x="506" y="565" width="1" height="6" fill="#cc0a14"/>
<rect x="507" y="566" width="1" height="5" fill="#cc0a14"/>
<rect x="509" y="563" width="2" height="8" fill="#0c6b37"/>
<rect x="511" y="538" width="1" height="33" fill="#0c6b37"/>
<rect x="512" y="543" width="1" height="28" fill="#0c6b37"/>
<rect x="515" y="560" width="1" height="11" fill="#0c6b37"/>
<rect x="516" y="552" width="1" height="19" fill="#0c6b37"/>
<rect x="517" y="545" width="1" height="26" fill="#0c6b37"/>
<rect x="518" y="562" width="1" height="9" fill="#0c6b37"/>
<rect x="520" y="556" width="1" height="15" fill="#cc0a14"/>
<rect x="521" y="561" width="1" height="10" fill="#0c6b37"/>
<rect x="522" y="565" width="1" height="6" fill="#0c6b37"/>
<rect x="523" y="563" width="1" height="8" fill="#cc0a14"/>
<rect x="524" y="556" width="1" height="15" fill="#cc0a14"/>
<rect x="526" y="538" width="1" height="33" fill="#cc0a14"/>
<rect x="527" y="557" width="1" height="14" fill="#cc0a14"/>
<rect x="528" y="528" width="1" height="43" fill="#cc0a14"/>
<rect x="529" y="554" width="1" height="17" fill="#0c6b37"/>
<rect x="532" y="558" width="1" height="13" fill="#0c6b37"/>
<rect x="533" y="558" width="1" height="13" fill="#cc0a14"/>
<rect x="535" y="562" width="1" height="9" fill="#0c6b37"/>
<rect x="538" y="561" width="1" height="10" fill="#0c6b37"/>
<rect x="539" y="552" width="1" height="19" fill="#0c6b37"/>
<rect x="540" y="547" width="1" height="24" fill="#0c6b37"/>
<rect x="541" y="563" width="1" height="8" fill="#0c6b37"/>
<rect x="543" y="556" width="2" height="15" fill="#0c6b37"/>
<rect x="545" y="559" width="1" height="12" fill="#0c6b37"/>
<rect x="546" y="550" width="1" height="21" fill="#cc0a14"/>
<rect x="549" y="559" width="4" height="12" fill="#0c6b37"/>
<rect x="555" y="513" width="1" height="58" fill="#0c6b37"/>
<rect x="556" y="533" width="1" height="38" fill="#0c6b37"/>
<rect x="557" y="551" width="2" height="20" fill="#0c6b37"/>
<rect x="560" y="551" width="1" height="20" fill="#0c6b37"/>
<rect x="561" y="556" width="1" height="15" fill="#0c6b37"/>
<rect x="562" y="559" width="1" height="12" fill="#0c6b37"/>
<rect x="563" y="541" width="1" height="30" fill="#0c6b37"/>
<rect x="564" y="552" width="1" height="19" fill="#0c6b37"/>
<rect x="566" y="539" width="1" height="32" fill="#cc0a14"/>
<rect x="567" y="508" width="2" height="63" fill="#cc0a14"/>
</g>
<path d="M343.2,510.5 L346.5,504.8 L349.8,510.5 Z" fill="#0c6b37"/>
<path d="M443.7,510.5 L447,504.8 L450.3,510.5 Z" fill="#0c6b37"/>
<path d="M484.2,510.5 L487.5,504.8 L490.8,510.5 Z" fill="#0c6b37"/>
<path d="M565.5,510.5 L568.5,504.5 L569,510.5 Z" fill="#cc0a14"/>
</svg>
</body></html>
